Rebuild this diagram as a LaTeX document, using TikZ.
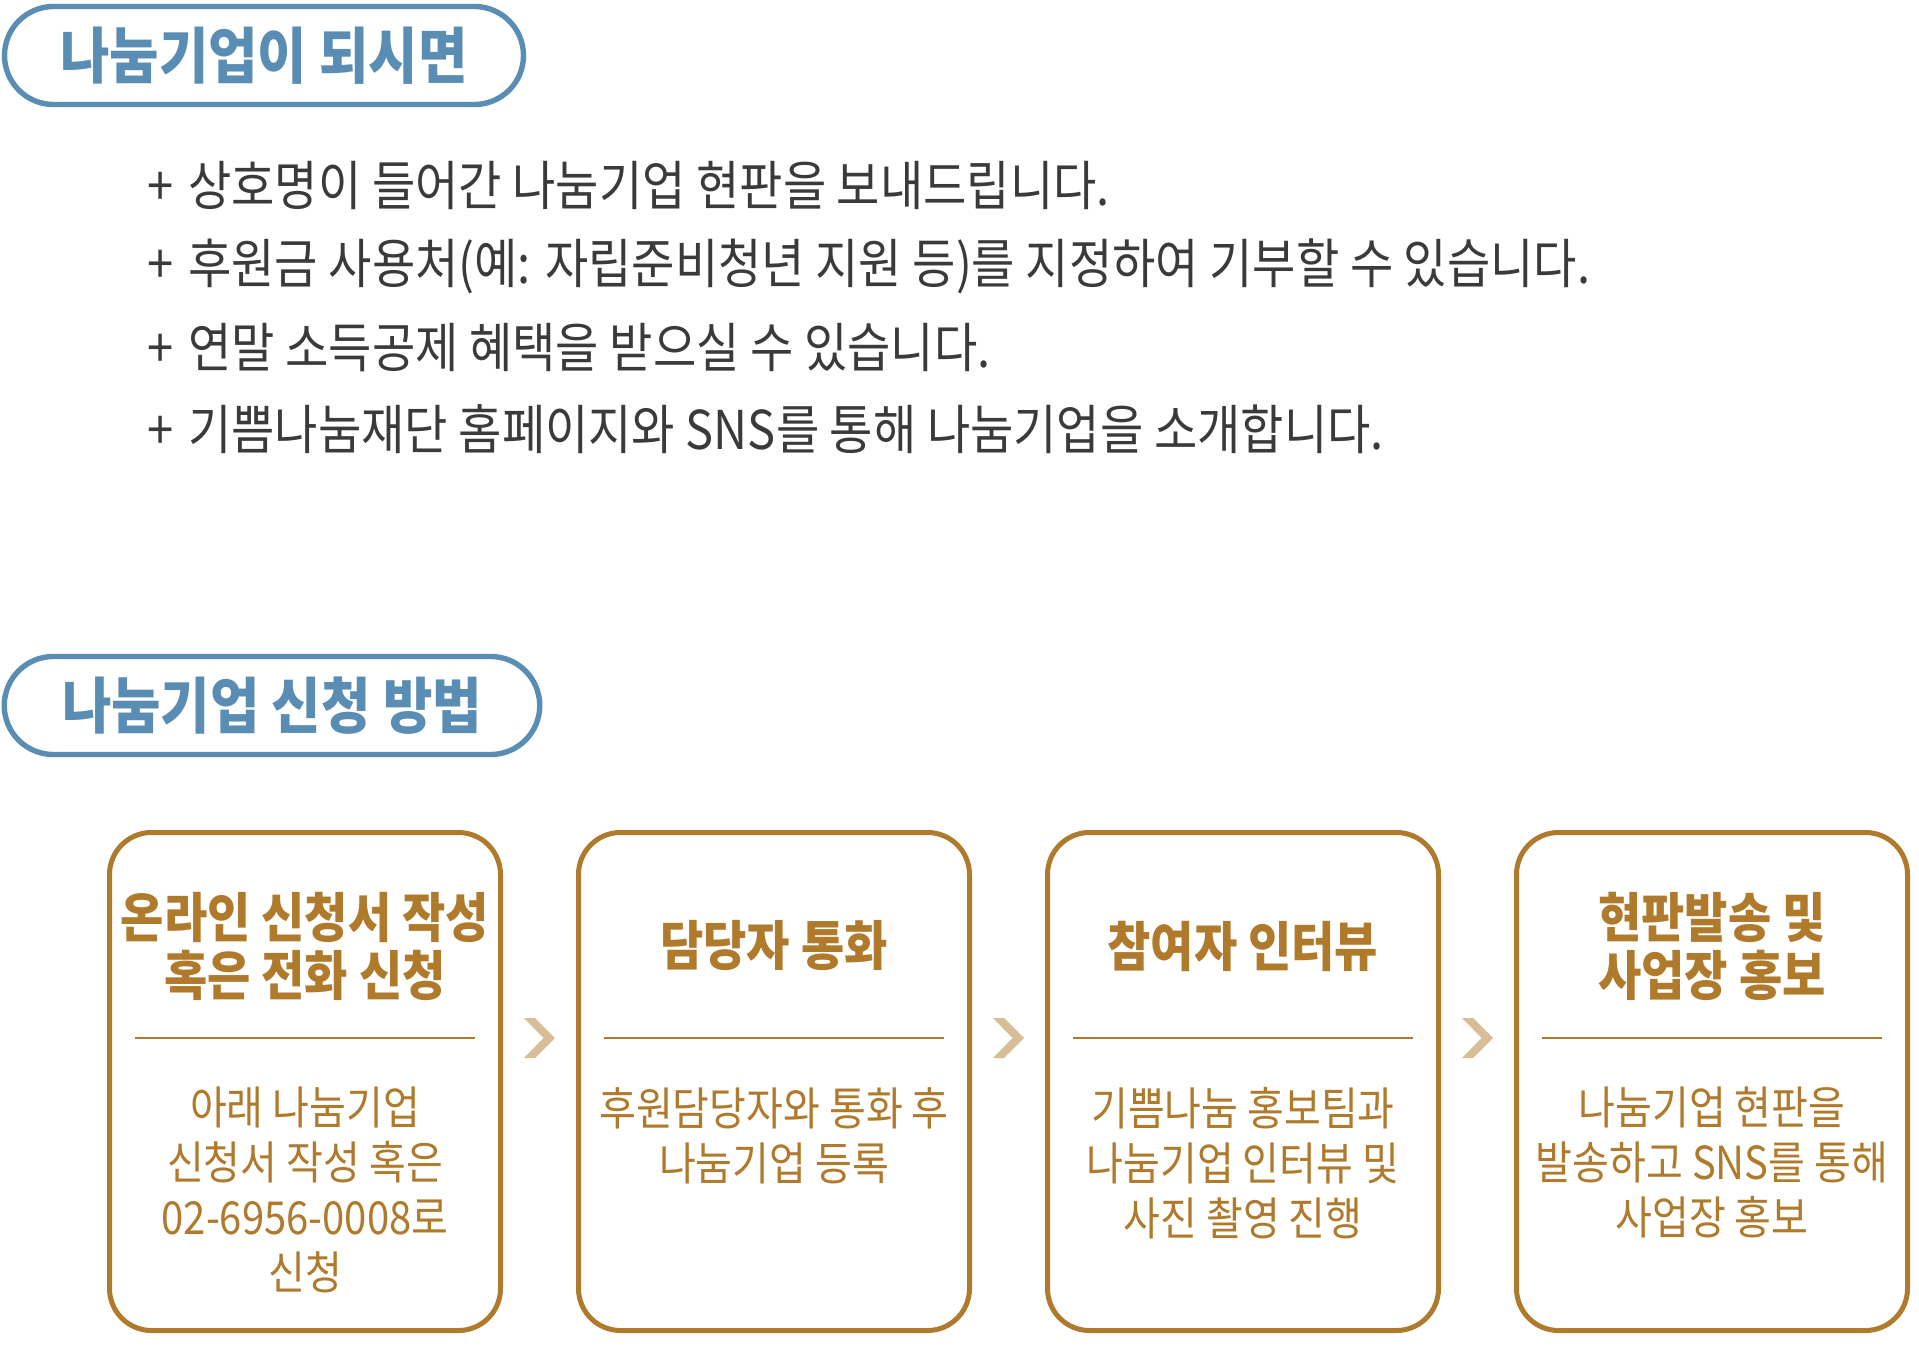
\documentclass[tikz,border=0pt]{standalone}
\usepackage{fontspec}
\setmainfont[FakeStretch=0.88]{Noto Sans CJK KR}
\usetikzlibrary{calc}

\definecolor{pillblue}{HTML}{5A8DB4}
\definecolor{gold}{HTML}{B07A2C}
\definecolor{chevtan}{HTML}{D7BE96}
\definecolor{listgray}{HTML}{3A3A3A}

\begin{document}
\begin{tikzpicture}[x=1pt, y=-1pt,
    pill/.style={draw=pillblue, line width=5.4pt, rounded corners=49pt,
      minimum height=98pt, inner sep=0pt, text=pillblue,
      font=\fontsize{61}{66}\selectfont\bfseries},
    itemline/.style={anchor=west, inner sep=0pt, text=listgray,
      font=\fontsize{53.5}{60}\selectfont},
    stepbox/.style={draw=gold, line width=5pt, rounded corners=42pt,
      minimum width=391pt, minimum height=498pt, inner sep=0pt},
    steptitle/.style={align=center, inner sep=0pt, text=gold,
      font=\fontsize{53.5}{58}\selectfont\bfseries},
    stepbody/.style={align=center, anchor=north, inner sep=0pt, text=gold,
      font=\fontsize{45.5}{55}\selectfont},
    divider/.style={draw=gold, line width=1.5pt},
    chevron/.style={fill=chevtan}]
    \useasboundingbox (0,0) rectangle (1919,1367);
    % section headings
    \node[pill, minimum width=519pt] (benefits) at (264,55.5) {나눔기업이 되시면};
    \node[pill, minimum width=535.5pt] (howto) at (272,705.5) {나눔기업 신청 방법};
    % benefit list
    \node[itemline] (item1) at (147,185) {+\hspace{15pt}상호명이 들어간 나눔기업 현판을 보내드립니다.};
    \node[itemline] (item2) at (147,266.5) {+\hspace{15pt}후원금 사용처(예: 자립준비청년 지원 등)를 지정하여 기부할 수 있습니다.};
    \node[itemline] (item3) at (147,348) {+\hspace{15pt}연말 소득공제 혜택을 받으실 수 있습니다.};
    \node[itemline] (item4) at (147,429.5) {+\hspace{15pt}기쁨나눔재단 홈페이지와 SNS를 통해 나눔기업을 소개합니다.};
    % four steps
    \foreach \i/\x in {1/305, 2/774, 3/1243, 4/1712}{
      \node[stepbox] (box\i) at (\x,1081.5) {};
      \draw[divider] (\x-170,1038) -- (\x+170,1038);
    }
    \node[steptitle] (title1) at (305,946) {온라인 신청서 작성\\혹은 전화 신청};
    \node[steptitle] (title2) at (774,946) {담당자 통화};
    \node[steptitle] (title3) at (1243,946) {참여자 인터뷰};
    \node[steptitle] (title4) at (1712,946) {현판발송 및\\사업장 홍보};
    \node[stepbody] (body1) at (305,1087) {아래 나눔기업\\신청서 작성 혹은\\02-6956-0008로\\신청};
    \node[stepbody] (body2) at (774,1087) {후원담당자와 통화 후\\나눔기업 등록};
    \node[stepbody] (body3) at (1243,1087) {기쁨나눔 홍보팀과\\나눔기업 인터뷰 및\\사진 촬영 진행};
    \node[stepbody] (body4) at (1712,1087) {나눔기업 현판을\\발송하고 SNS를 통해\\사업장 홍보};
    % chevrons between the steps
    \foreach \i/\j in {1/2, 2/3, 3/4}{
      \fill[chevron, shift={($(box\i.east)!.5!(box\j.west) + (0,-43.5)$)}]
        (-15.5,-20) -- (-4.5,-20) -- (15.5,0) -- (-4.5,20) -- (-15.5,20) -- (4,0) -- cycle;
    }
\end{tikzpicture}
\end{document}
